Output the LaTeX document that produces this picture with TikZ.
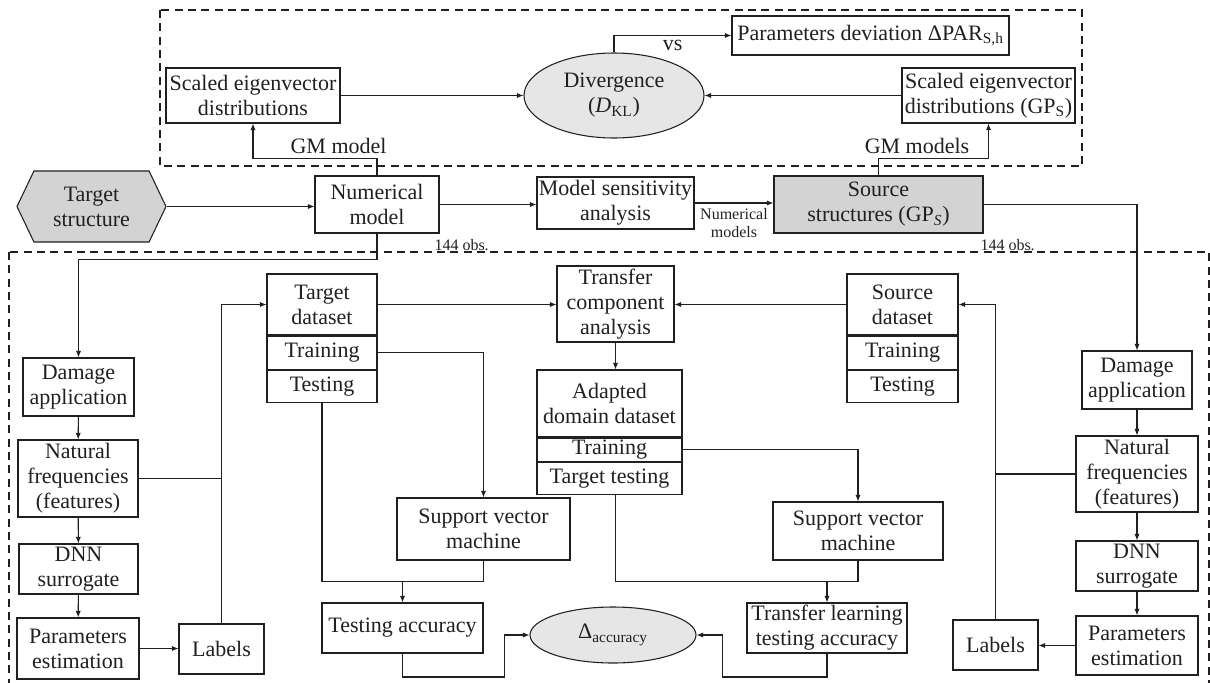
\documentclass[tikz,border=0pt]{standalone}
\usepackage{fontspec}
\setmainfont{Liberation Serif}
\usetikzlibrary{arrows.meta, positioning, shapes.geometric, shapes.symbols, calc}
\definecolor{linegray}{HTML}{231F20}
\definecolor{boxgray}{HTML}{D3D3D3}
\definecolor{ovalgray}{HTML}{E6E6E6}

\begin{document}
\begin{tikzpicture}[x=0.75pt, y=-0.75pt, line width=0.8pt, color=linegray,
    font=\fontsize{16.5}{18.75}\selectfont,
    box/.style={draw, fill=white, align=center, inner sep=0pt},
    shadedbox/.style={box, fill=boxgray},
    oval/.style={draw, ellipse, fill=ovalgray, align=center, inner sep=0pt},
    arr/.style={-{Latex[length=5pt,width=4pt]}},
    frame/.style={dash pattern=on 6pt off 4pt},
    note/.style={font=\fontsize{12}{13.5}\selectfont, align=center}]
  \useasboundingbox (0,0) rectangle (1210,682);
  % Dashed frames
  \draw[frame] (160,10) rectangle (1082,166);
  \draw[frame] (9,252) rectangle (1209,690);
  % Divergence part
  \node[box, minimum width=130.5pt, minimum height=41.25pt] (sevL) at (253,95.5) {Scaled eigenvector\\distributions};
  \node[oval, minimum width=135pt, minimum height=63.75pt] (div) at (614,95.5) {Divergence\\(\textit{D}\textsubscript{KL})};
  \node[box, minimum width=207.75pt, minimum height=29.25pt] (pardev) at (870.5,35.5) {Parameters deviation ΔPAR\textsubscript{S,h}};
  \node[box, minimum width=129.75pt, minimum height=41.25pt] (sevR) at (988.5,95.5) {Scaled eigenvector\\distributions (GP\textsubscript{S})};
  % Structures and models
  \node[signal, signal to=west and east, signal pointer angle=129, draw, fill=boxgray, align=center, inner sep=0pt,
    minimum width=111.75pt, minimum height=53.25pt] (tgtstr) at (91.5,206.5) {Target\\structure};
  \node[box, minimum width=93pt, minimum height=42.75pt] (nummod) at (377,204.5) {Numerical\\model};
  \node[box, minimum width=117.75pt, minimum height=39pt] (mosens) at (615.5,203) {Model sensitivity\\analysis};
  \node[shadedbox, minimum width=156.75pt, minimum height=42.75pt] (srcstr) at (878.5,204.5) {Source\\structures (GP\textsubscript{\textit{S}})};
  \node[note, anchor=north west] (obsL) at ($(nummod.south east)+(-10,1)$) {144 obs.};
  \node[note, anchor=north west] (obsR) at ($(srcstr.south east)+(-8,1)$) {144 obs.};
  % Datasets
  \node[box, minimum width=82.5pt, minimum height=45.75pt] (tgtset) at (322,304.5) {Target\\dataset};
  \node[box, minimum width=82.5pt, minimum height=24.75pt, below=0pt of tgtset] (tgttrain) {Training};
  \node[box, minimum width=82.5pt, minimum height=24pt, below=0pt of tgttrain] (tgttest) {Testing};
  \node[box, minimum width=87.75pt, minimum height=57pt] (tca) at (615.5,304) {Transfer\\component\\analysis};
  \node[box, minimum width=83.25pt, minimum height=45.75pt] (srcset) at (902.5,304.5) {Source\\dataset};
  \node[box, minimum width=83.25pt, minimum height=24.75pt, below=0pt of srcset] (srctrain) {Training};
  \node[box, minimum width=83.25pt, minimum height=24pt, below=0pt of srctrain] (srctest) {Testing};
  \node[box, minimum width=108.75pt, minimum height=50.25pt] (adset) at (609.5,403.5) {Adapted\\domain dataset};
  \node[box, minimum width=108.75pt, minimum height=17.25pt, below=0pt of adset] (adtrain) {Training};
  \node[box, minimum width=108.75pt, minimum height=24pt, below=0pt of adtrain] (adtest) {Target testing};
  % Target chain (left)
  \node[box, minimum width=83.25pt, minimum height=43.5pt] (damL) at (78.5,387) {Damage\\application};
  \node[box, minimum width=90pt, minimum height=57.75pt] (natL) at (78,478.5) {Natural\\frequencies\\(features)};
  \node[box, minimum width=89.25pt, minimum height=37.5pt] (dnnL) at (78.5,569) {DNN\\surrogate};
  \node[box, minimum width=91.5pt, minimum height=45.75pt] (parL) at (78,648.5) {Parameters\\estimation};
  \node[box, minimum width=63.75pt, minimum height=37.5pt] (labL) at (221.5,649) {Labels};
  % Source chain (right)
  \node[box, minimum width=82.5pt, minimum height=43.5pt] (damR) at (1137,380) {Damage\\application};
  \node[box, minimum width=91.5pt, minimum height=57pt] (natR) at (1137,474) {Natural\\frequencies\\(features)};
  \node[box, minimum width=91.5pt, minimum height=37.5pt] (dnnR) at (1137,566) {DNN\\surrogate};
  \node[box, minimum width=91.5pt, minimum height=44.25pt] (parR) at (1137,645.5) {Parameters\\estimation};
  \node[box, minimum width=63.75pt, minimum height=37.5pt] (labR) at (995.5,645) {Labels};
  % Classifiers and accuracy
  \node[box, minimum width=129.75pt, minimum height=46.5pt] (svmL) at (483.5,529) {Support vector\\machine};
  \node[box, minimum width=127.5pt, minimum height=43.5pt] (svmR) at (858,531) {Support vector\\machine};
  \node[box, minimum width=120.75pt, minimum height=37.5pt] (tacc) at (402.5,628) {Testing accuracy};
  \node[box, minimum width=120pt, minimum height=37.5pt] (tlacc) at (827,628) {Transfer learning\\testing accuracy};
  \node[oval, minimum width=124.5pt, minimum height=42pt] (dacc) at (613,635) {Δ\textsubscript{accuracy}};
  % Top connectors
  \draw[arr] (sevL) -- (div);
  \draw[arr] (sevR) -- (div);
  \draw[arr] (div.north) |- node[below, pos=0.75] (vs) {vs} (pardev.west);
  \draw[arr] (nummod.north) -- ++(0,-17) -| node[above, pos=0.155] (gmL) {GM model} (sevL.south);
  \draw[arr] (srcstr.north) -- ++(0,-17) -| node[above, pos=0.175] (gmR) {GM models} (sevR.south);
  \draw[arr] (tgtstr.east) -- (tgtstr.east -| nummod.west);
  \draw[arr] (nummod.east) -- (nummod.east -| mosens.west);
  \draw[arr] (mosens.east) -- node[note, below] (nmods) {Numerical\\models} (mosens.east -| srcstr.west);
  \draw[arr] (nummod.south) -- ++(0,26) -| (damL.north);
  \draw[arr] (srcstr.east) -| (damR.north);
  % Left chain
  \draw[arr] (damL) -- (natL);
  \draw[arr] (natL) -- (dnnL);
  \draw[arr] (dnnL) -- (parL);
  \draw[arr] (parL.east) -- (parL.east -| labL.west);
  \draw (natL.east) -- (natL.east -| labL.north);
  \draw[arr] (labL.north) |- (tgtset.west);
  % Right chain
  \draw[arr] (damR) -- (natR);
  \draw[arr] (natR) -- (dnnR);
  \draw[arr] (dnnR) -- (parR);
  \draw[arr] (parR.west) -- (parR.west -| labR.east);
  \draw (natR.west) -- (natR.west -| labR.north);
  \draw[arr] (labR.north) |- (srcset.east);
  % Transfer
  \draw[arr] (tgtset.east) -- (tgtset.east -| tca.west);
  \draw[arr] (srcset.west) -- (srcset.west -| tca.east);
  \draw[arr] (tca.south) -- (tca.south |- adset.north);
  \draw[arr] (tgttrain.east) -| (svmL.north);
  \draw[arr] (adtrain.east) -| (svmR.north);
  \coordinate (jL) at ($(tacc.north)+(0,-21)$);
  \coordinate (jR) at ($(tlacc.north)+(0,-21)$);
  \draw (tgttest.south) |- (jL) -| (svmL.south);
  \draw[arr] (jL) -- (tacc.north);
  \draw (tca.south |- adtest.south) |- (jR) -| (svmR.south);
  \draw[arr] (jR) -- (tlacc.north);
  \draw[arr] (tacc.south) |- ($(dacc.west)+(-25,42)$) |- (dacc.west);
  \draw[arr] (tlacc.south) |- ($(dacc.east)+(26,42)$) |- (dacc.east);
\end{tikzpicture}
\end{document}
